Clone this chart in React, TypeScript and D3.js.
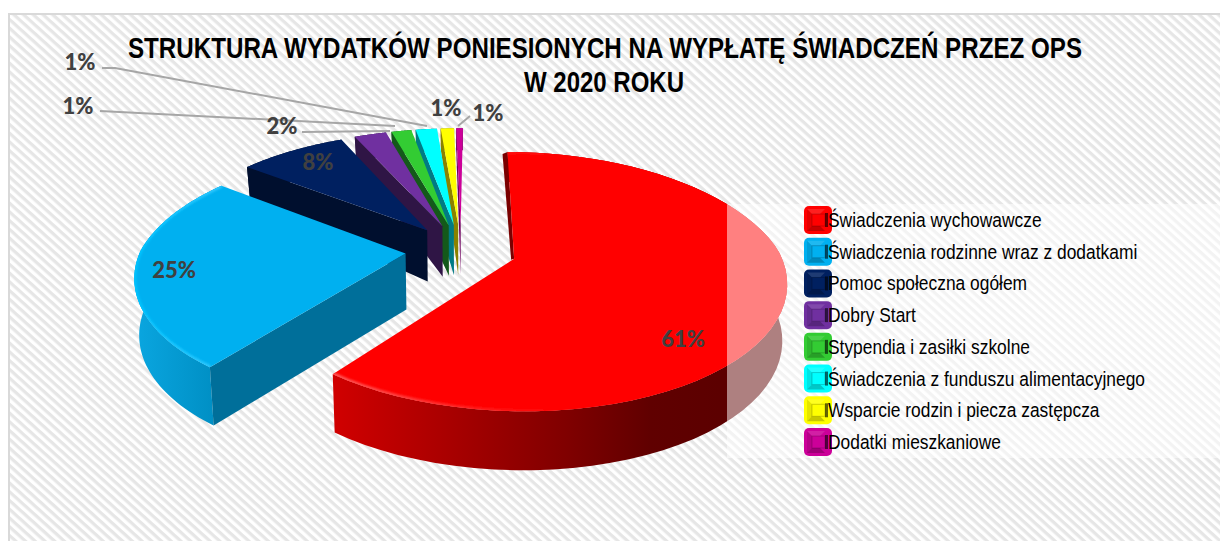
import React from 'react';
import * as d3 from 'd3';

const width = 1220;
const height = 541;

// values (labels are the rounded ones printed on it)
const categories = [
  'Świadczenia wychowawcze',
  'Świadczenia rodzinne wraz z dodatkami',
  'Pomoc społeczna ogółem',
  'Dobry Start',
  'Stypendia i zasiłki szkolne',
  'Świadczenia z funduszu alimentacyjnego',
  'Wsparcie rodzin i piecza zastępcza',
  'Dodatki mieszkaniowe',
];
const values = [60.4, 24.7, 7.9, 2.4, 1.5, 1.6, 1.0, 0.5];
const valueLabels = ['61%', '25%', '8%', '2%', '1%', '1%', '1%', '1%'];
const topColors = ['#ff0000', '#00b0f0', '#002060', '#7030a0', '#33cc33', '#00ffff', '#ffff00', '#cc0099'];
const faceColors = ['#7a0000', '#006f9a', '#000f2e', '#2f1545', '#14591a', '#007b85', '#8a8200', '#6f0060'];
const wallColors = ['#d00000', '#0a9fd8', '#000f2e', '#2f1545', '#14591a', '#007b85', '#8a8200', '#6f0060'];
const labelSpots: [number, number][] = [[683, 347], [174, 278], [318, 170], [282, 134], [80, 70], [78, 114], [446, 116], [488, 121]];
const leaders: [number, number][][] = [
  [], [], [], [[302, 132], [390, 131]],
  [[100, 111], [395, 126]],
  [[102, 68], [115, 68], [427, 126]],
  [], [[458, 126], [470, 116]],
];

// perspective of the tilted pie
const cx = 461;
const cy = 250;
const radiusX = 265;
const radiusY = 125;
const tiltBack = 0.2;
const tiltFront = 0.16;
const explode = 0.21;
const depth = 56;
const rotation = 0.01;

const project = (a: number, b: number, down = 0): [number, number] => {
  const s = 1 / (1 - (b < 0 ? tiltBack : tiltFront) * b);
  const drop = down * depth * (b < 0 ? 1 + 0.5 * b : 1 + 0.05 * b);
  const shrink = 1 - down * 0.015;
  return [cx + radiusX * a * s * shrink, cy + radiusY * b * s + drop];
};

const slices = d3.pie<number>().sort(null).startAngle(rotation).endAngle(2 * Math.PI + rotation)(values);
const line = d3.line();

const apexOf = (d: d3.PieArcDatum<number>) => {
  const mid = (d.startAngle + d.endAngle) / 2;
  return [explode * Math.sin(mid), -explode * Math.cos(mid)];
};
const rimPoint = (d: d3.PieArcDatum<number>, angle: number) => {
  const [ax, ay] = apexOf(d);
  return [ax + Math.sin(angle), ay - Math.cos(angle)];
};
const rim = (d: d3.PieArcDatum<number>, down = 0) =>
  d3.range(0, 61).map((i) => {
    const [a, b] = rimPoint(d, d.startAngle + ((d.endAngle - d.startAngle) * i) / 60);
    return project(a, b, down);
  });

const Slice = ({ d, i }: { d: d3.PieArcDatum<number>; i: number }) => {
  const [ax, ay] = apexOf(d);
  const topRim = rim(d);
  const bottomRim = rim(d, 1);
  const [sa, sb] = rimPoint(d, d.startAngle);
  const apexTop = project(ax, ay);
  const tipTop = project(sa, sb);
  // the big slice only shows a sliver of its cut face
  const cutFace: [number, number][] =
    i === 0
      ? [apexTop, tipTop, [tipTop[0] - 5, tipTop[1] + 2], [apexTop[0] - 3, apexTop[1] + 1]]
      : [apexTop, tipTop, project(sa, sb, 1), project(ax, ay, 1)];
  const topPath = line([apexTop, ...topRim]) + 'Z';
  return (
    <g>
      <clipPath id={`top${i}`}>
        <path d={topPath} />
      </clipPath>
      <path d={line([...topRim, ...[...bottomRim].reverse()]) + 'Z'} fill={i < 2 ? `url(#wall${i})` : wallColors[i]} />
      <path d={line(cutFace) + 'Z'} fill={faceColors[i]} />
      <path d={topPath} fill={topColors[i]} />
      {i < 2 && (
        <g clipPath={`url(#top${i})`}>
          <path d={line(topRim) ?? ''} fill="none" stroke={`url(#rim${i})`} strokeWidth={4} filter="url(#soft)" />
        </g>
      )}
    </g>
  );
};

export default function App() {
  const rowY = d3.scalePoint<number>().domain(d3.range(categories.length)).range([220, 442]);
  return (
    <svg width={width} height={height} style={{ position: 'fixed', left: 0, top: 0, display: 'block' }}>
      <defs>
        <pattern id="stripes" width="6.5" height="6.5" patternUnits="userSpaceOnUse" patternTransform="rotate(42)">
          <rect width="6.5" height="6.5" fill="#ffffff" />
          <rect width="6.5" height="3.2" fill="#e6e6e6" />
        </pattern>
        <linearGradient id="wall0" gradientUnits="userSpaceOnUse" x1="335" x2="720" y1="0" y2="0">
          <stop offset="0" stopColor="#d00000" />
          <stop offset="0.3" stopColor="#a80000" />
          <stop offset="0.6" stopColor="#800000" />
          <stop offset="0.82" stopColor="#600000" />
          <stop offset="1" stopColor="#5c0000" />
        </linearGradient>
        <linearGradient id="wall1" gradientUnits="userSpaceOnUse" x1="135" x2="215" y1="0" y2="0">
          <stop offset="0" stopColor="#0aa6e0" />
          <stop offset="1" stopColor="#008fc4" />
        </linearGradient>
        <linearGradient id="rim0" gradientUnits="userSpaceOnUse" x1="335" x2="560" y1="0" y2="0">
          <stop offset="0" stopColor="#ff5a5a" />
          <stop offset="1" stopColor="#ff0000" />
        </linearGradient>
        <linearGradient id="rim1" gradientUnits="userSpaceOnUse" x1="135" x2="215" y1="0" y2="0">
          <stop offset="0" stopColor="#00c4ff" />
          <stop offset="1" stopColor="#30c8ff" />
        </linearGradient>
        <filter id="soft" x="-5%" y="-5%" width="110%" height="110%">
          <feGaussianBlur stdDeviation="0.8" />
        </filter>
      </defs>

      <rect width={width} height={height} fill="#ffffff" />
      <rect x={9} y={14} width={width} height={height} fill="url(#stripes)" stroke="#d9d9d9" strokeWidth={2} />

      <g fontFamily="Liberation Sans" fontWeight={700} fontSize={27} fill="#000" textAnchor="middle">
        <text transform="translate(605,58) scale(1,1.08)" textLength={954} lengthAdjust="spacingAndGlyphs">
          STRUKTURA WYDATKÓW PONIESIONYCH NA WYPŁATĘ ŚWIADCZEŃ PRZEZ OPS
        </text>
        <text transform="translate(604,92) scale(1,1.08)" textLength={160} lengthAdjust="spacingAndGlyphs">
          W 2020 ROKU
        </text>
      </g>

      {leaders.map((pts, i) =>
        pts.length ? <path key={i} d={line(pts) ?? ''} fill="none" stroke="#a6a6a6" strokeWidth={2} /> : null,
      )}

      {[...slices].reverse().map((d) => (
        <Slice key={d.index} d={d} i={d.index} />
      ))}

      {valueLabels.map((t, i) => (
        <text key={i} x={labelSpots[i][0]} y={labelSpots[i][1]} textAnchor="middle" fontFamily="Lato" fontWeight={900} fontSize={22} fill="#404040">
          {t}
        </text>
      ))}

      {/* legend box washes out whatever is behind it */}
      <rect x={727} y={204} width={493} height={254} fill="#ffffff" opacity={0.5} />
      {categories.map((c, i) => {
        const y = rowY(i) ?? 0;
        return (
          <g key={c}>
            <rect x={804} y={y - 14} width={28} height={28} rx={5} fill={topColors[i]} />
            <path d={`M807 ${y - 11}L825 ${y - 11}L820 ${y - 6}L812 ${y - 6}Z`} fill="#fff" opacity={0.12} />
            <path d={`M807 ${y + 11}L825 ${y + 11}L820 ${y + 6}L812 ${y + 6}Z`} fill="#000" opacity={0.22} />
            <path d={`M807 ${y - 11}L812 ${y - 6}L812 ${y + 6}L807 ${y + 11}Z`} fill="#000" opacity={0.1} />
            <rect x={812} y={y - 6} width={13} height={12} fill={topColors[i]} stroke="#000" strokeOpacity={0.2} />
            <rect x={825} y={y - 7} width={3} height={14} fill="#000" opacity={0.6} />
            <text transform={`translate(828,${y + 7}) scale(0.892,1)`} fontFamily="Liberation Sans" fontSize={19.5} fill="#000">
              {c}
            </text>
          </g>
        );
      })}
    </svg>
  );
}
